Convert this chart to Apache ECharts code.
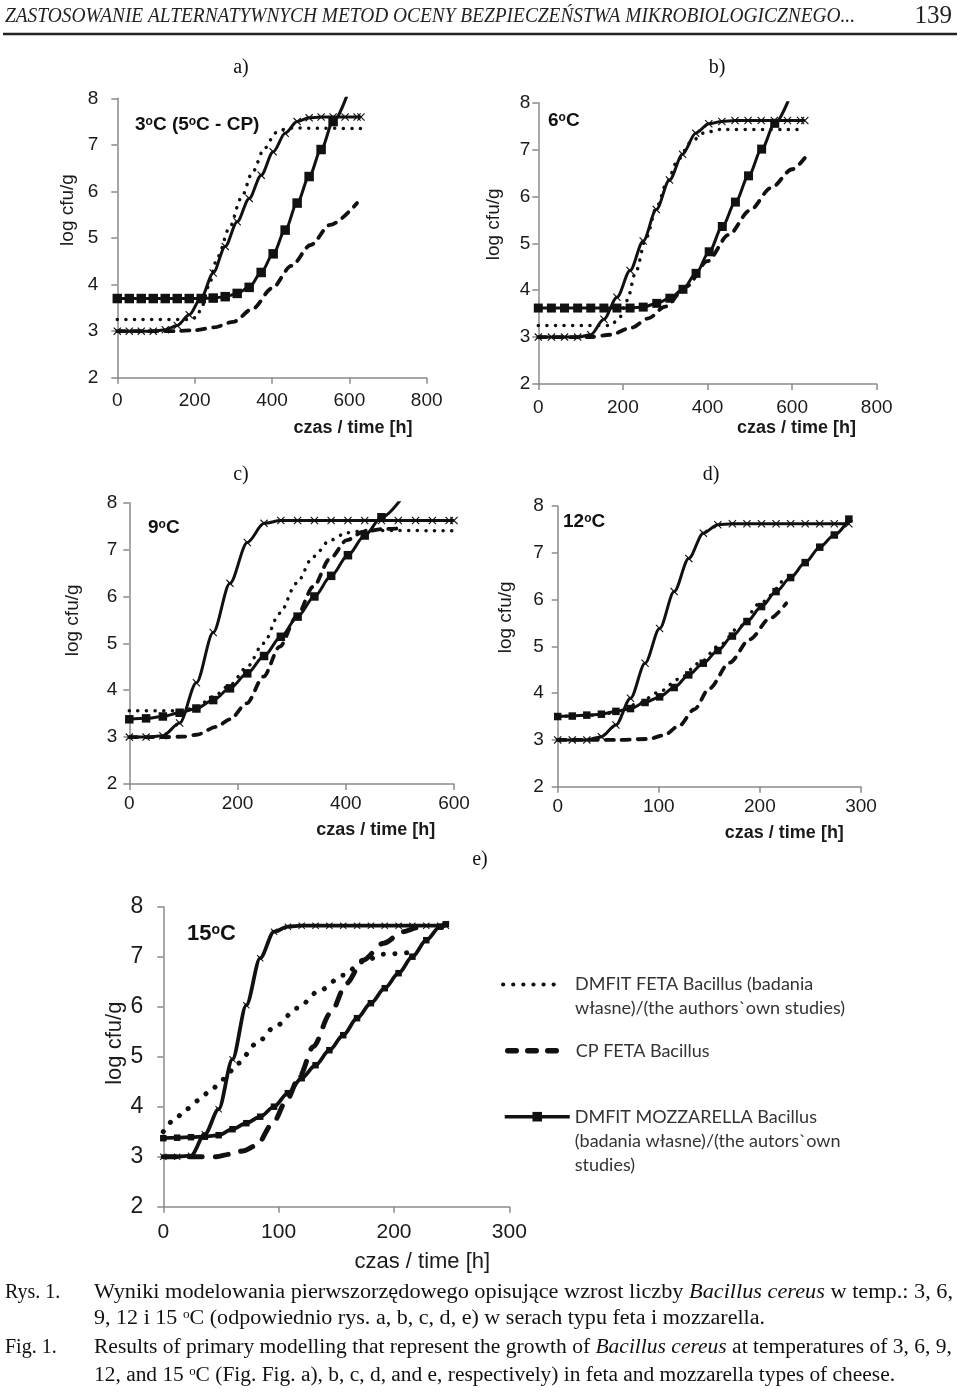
<!DOCTYPE html>
<html><head><meta charset="utf-8">
<script src="https://cdn.jsdelivr.net/npm/echarts@6/dist/echarts.min.js"></script>
<style>html,body{margin:0;padding:0;background:#fff}#c{width:960px;height:1393px}</style>
</head><body><div id="c"></div>
<script>
// ---------------- DATA ----------------
const NAME_FETA_DMFIT = 'DMFIT FETA Bacillus (badania\nwłasne)/(the authors`own studies)';
const NAME_FETA_CP = 'CP FETA Bacillus';
const NAME_MOZZ_DMFIT = 'DMFIT MOZZARELLA Bacillus\n(badania własne)/(the autors`own\nstudies)';
const NAME_X = 'Bacillus (×)';

// a) 3 °C
const a_dmfitFeta = [[0,3.25],[190,3.25],[205,3.3],[220,3.55],[235,3.95],[260,4.6],[290,5.22],[320,5.85],[350,6.42],[380,6.92],[410,7.26],[440,7.36],[470,7.36],[630,7.35]];
const a_cpFeta = [[0,3.0],[150,3.0],[200,3.02],[250,3.08],[300,3.2],[350,3.48],[400,3.92],[450,4.4],[500,4.85],[550,5.28],[620,5.75]];
const a_dmfitMozz = [[0,3.7],[31,3.7],[62,3.7],[93,3.7],[124,3.7],[155,3.7],[186,3.7],[217,3.7],[248,3.71],[279,3.74],[310,3.81],[341,3.94],[372,4.26],[403,4.66],[434,5.17],[465,5.75],[496,6.32],[527,6.9],[558,7.5],[600,8.2]];
const a_xSeries = [[0,3.0],[31,3.0],[62,3.0],[93,3.0],[124,3.03],[155,3.12],[186,3.35],[217,3.72],[248,4.25],[279,4.82],[310,5.35],[341,5.85],[372,6.35],[403,6.85],[434,7.25],[465,7.5],[496,7.58],[527,7.6],[558,7.6],[589,7.6],[620,7.6],[630,7.6]];

// b) 6 °C
const b_dmfitFeta = [[0,3.25],[170,3.25],[190,3.38],[210,3.78],[230,4.38],[255,5.12],[280,5.78],[305,6.32],[330,6.78],[360,7.15],[390,7.35],[430,7.43],[630,7.43]];
const b_cpFeta = [[0,3.0],[120,3.0],[170,3.05],[220,3.2],[260,3.4],[300,3.65],[350,4.08],[400,4.62],[450,5.18],[500,5.7],[550,6.18],[600,6.58],[630,6.82]];
const b_dmfitMozz = [[0,3.62],[31,3.62],[62,3.62],[93,3.62],[124,3.62],[155,3.62],[186,3.62],[217,3.62],[248,3.64],[280,3.72],[311,3.83],[342,4.02],[373,4.36],[404,4.82],[435,5.36],[466,5.88],[497,6.44],[528,7.01],[559,7.56],[600,8.25]];
const b_xSeries = [[0,3.0],[31,3.0],[62,3.0],[93,3.0],[124,3.05],[155,3.38],[186,3.85],[217,4.42],[248,5.05],[279,5.72],[310,6.35],[341,6.9],[372,7.35],[403,7.55],[434,7.6],[465,7.62],[496,7.62],[527,7.62],[558,7.62],[589,7.62],[620,7.62],[630,7.62]];

// c) 9 °C
const c_dmfitFeta = [[0,3.56],[100,3.56],[125,3.65],[155,3.86],[186,4.11],[218,4.5],[248,5.0],[278,5.64],[309,6.28],[340,6.85],[371,7.2],[402,7.36],[440,7.41],[600,7.4]];
const c_cpFeta = [[0,3.0],[62,3.0],[100,3.01],[124,3.05],[161,3.22],[186,3.38],[217,3.72],[248,4.29],[278,4.93],[309,5.57],[340,6.21],[371,6.81],[402,7.2],[432,7.38],[470,7.44],[495,7.45]];
const c_dmfitMozz = [[0,3.38],[31,3.4],[62,3.44],[93,3.52],[124,3.61],[155,3.79],[186,4.04],[218,4.36],[249,4.73],[280,5.14],[311,5.57],[342,6.0],[373,6.44],[404,6.88],[435,7.3],[466,7.69],[520,8.37]];
const c_xSeries = [[0,3.0],[31,3.0],[62,3.03],[93,3.3],[124,4.16],[155,5.23],[186,6.28],[218,7.15],[249,7.56],[280,7.62],[311,7.62],[342,7.62],[373,7.62],[404,7.62],[435,7.62],[466,7.62],[497,7.62],[529,7.62],[560,7.62],[591,7.62],[600,7.62]];

// d) 12 °C
const d_dmfitFeta = [[0,3.5],[40,3.53],[60,3.6],[80,3.78],[100,4.02],[120,4.3],[140,4.64],[160,5.02],[180,5.42],[200,5.92],[222,6.4]];
const d_cpFeta = [[0,3.0],[60,3.0],[90,3.02],[105,3.1],[120,3.3],[135,3.65],[150,4.1],[170,4.65],[190,5.15],[210,5.6],[226,5.92]];
const d_dmfitMozz = [[0,3.5],[14.4,3.51],[28.8,3.53],[43.2,3.55],[57.6,3.61],[72,3.67],[86.4,3.8],[100.8,3.92],[115.2,4.12],[129.6,4.39],[144,4.64],[158.4,4.91],[172.8,5.22],[187.2,5.53],[201.6,5.85],[216,6.17],[230.4,6.47],[244.8,6.79],[259.2,7.12],[273.6,7.38],[288,7.72]];
const d_xSeries = [[0,3.0],[14.4,3.0],[28.8,3.0],[43.2,3.07],[57.6,3.32],[72,3.89],[86.4,4.64],[100.8,5.38],[115.2,6.17],[129.6,6.88],[144,7.42],[158.4,7.6],[172.8,7.62],[187.2,7.62],[201.6,7.62],[216,7.62],[230.4,7.62],[244.8,7.62],[259.2,7.62],[273.6,7.62],[288,7.62]];

// e) 15 °C
const e_dmfitFeta = [[0,3.5],[10,3.75],[20,3.95],[30,4.12],[40,4.3],[52,4.55],[65,4.87],[80,5.25],[98,5.62],[116,5.97],[136,6.33],[156,6.63],[173,6.9],[191,7.05],[211,7.08]];
const e_cpFeta = [[0,3.0],[30,3.0],[46,3.0],[58,3.05],[70,3.12],[81,3.23],[95,3.67],[107,4.13],[118,4.6],[130,5.2],[145,5.87],[159,6.47],[173,6.93],[191,7.27],[208,7.5],[220,7.58],[228,7.6]];
const e_dmfitMozz = [[0,3.37],[12,3.38],[24,3.39],[36,3.4],[48,3.43],[60,3.55],[72,3.67],[84,3.8],[96,4.0],[108,4.27],[120,4.57],[132,4.83],[144,5.13],[156,5.43],[168,5.77],[180,6.07],[192,6.37],[204,6.67],[216,7.0],[228,7.33],[240,7.6],[245,7.65]];
const e_xSeries = [[0,3.0],[12,3.0],[24,3.02],[36,3.45],[48,3.95],[60,4.95],[72,6.03],[84,6.97],[96,7.5],[108,7.6],[120,7.62],[132,7.62],[144,7.62],[156,7.62],[168,7.62],[180,7.62],[192,7.62],[204,7.62],[216,7.62],[228,7.62],[240,7.62],[245,7.62]];

// axis ranges
const xRanges = {a:[0,800,200], b:[0,800,200], c:[0,600,200], d:[0,300,100], e:[0,300,100]};
const yRange = [2,8,1];

// texts
const Y_NAME = 'log cfu/g';
const X_NAME = 'czas / time [h]';
const HEADER = 'ZASTOSOWANIE ALTERNATYWNYCH METOD OCENY BEZPIECZEŃSTWA MIKROBIOLOGICZNEGO...';
const PAGE_NO = '139';
const capRys1 = [['n','Wyniki modelowania pierwszorzędowego opisujące wzrost liczby '],['i','Bacillus cereus'],['n',' w temp.: 3, 6,']];
const capRys2 = [['n','9, 12 i 15 '],['s','o'],['n','C (odpowiednio rys. a, b, c, d, e) w serach typu feta i mozzarella.']];
const capFig1 = [['n','Results of primary modelling that represent the growth of '],['i','Bacillus cereus'],['n',' at temperatures of 3, 6, 9,']];
const capFig2 = [['n','12, and 15 '],['s','o'],['n','C (Fig. Fig. a), b, c, d, and e, respectively) in feta and mozzarella types of cheese.']];

// ---------------- LAYOUT / STYLE ----------------
const SANS = 'Liberation Sans';
const SERIF = 'Liberation Serif';
const INK = '#111';
const AXC = '#8a8a8a';
const panels = [
  {k:'a', letter:'a)', lx:241, ly:68, temp:'{b|3}{o|o}{b|C (5}{o|o}{b|C - CP)}', tx:135, ty:125, tfs:19,
   grid:{left:117.3, top:98.3, width:309.4, height:279.4}, xfs:19, yfs:19, xm:14, ym:19, xGap:41, xPad:162, yGap:40, yPad:56, xnfs:18, ynfs:19, xBold:true,
   sq:9.5, xs:8, lw:3, dot:[3.5,8.5], dash:[3.8,8,8]},
  {k:'b', letter:'b)', lx:717, ly:68, temp:'{b|6}{o|o}{b|C}', tx:548, ty:121, tfs:19,
   grid:{left:538.3, top:102.7, width:338.4, height:281.3}, xfs:19, yfs:19, xm:14, ym:8, xGap:35, xPad:178, yGap:35, yPad:38, xnfs:18, ynfs:19, xBold:true,
   sq:9, xs:8, lw:3, dot:[3.5,8.5], dash:[3.8,8,8]},
  {k:'c', letter:'c)', lx:241, ly:475, temp:'{b|9}{o|o}{b|C}', tx:148, ty:528, tfs:19,
   grid:{left:129.3, top:502.7, width:324.7, height:281.3}, xfs:19, yfs:19, xm:10, ym:12, xGap:37, xPad:168, yGap:47, yPad:46, xnfs:18, ynfs:19, xBold:true,
   sq:8.5, xs:8, lw:3, dot:[3.5,8.5], dash:[3.8,8,8]},
  {k:'d', letter:'d)', lx:711, ly:475, temp:'{b|12}{o|o}{b|C}', tx:563, ty:522, tfs:19,
   grid:{left:557.7, top:506, width:303.3, height:280.7}, xfs:19, yfs:19, xm:11, ym:14, xGap:37.5, xPad:150, yGap:42, yPad:58, xnfs:18, ynfs:19, xBold:true,
   sq:7.5, xs:8, lw:3, dot:[3.5,8.5], dash:[3.8,8,8]},
  {k:'e', letter:'e)', lx:480, ly:860, temp:'{b|15}{o|o}{b|C}', tx:187, ty:934, tfs:22,
   grid:{left:163.3, top:906.7, width:346, height:300}, xfs:21, yfs:23, xm:15, ym:20, xGap:44, xPad:172, yGap:37, yPad:27, xnfs:22, ynfs:22, xBold:false,
   sq:6.5, xs:7, lw:3.8, dot:[5,11.5], dash:[5,13,13]}
];
const dataByPanel = {
  a:[a_dmfitFeta,a_cpFeta,a_dmfitMozz,a_xSeries],
  b:[b_dmfitFeta,b_cpFeta,b_dmfitMozz,b_xSeries],
  c:[c_dmfitFeta,c_cpFeta,c_dmfitMozz,c_xSeries],
  d:[d_dmfitFeta,d_cpFeta,d_dmfitMozz,d_xSeries],
  e:[e_dmfitFeta,e_cpFeta,e_dmfitMozz,e_xSeries]
};
const X_SYMBOL = 'path://M0,1L1,0L5,4L9,0L10,1L6,5L10,9L9,10L5,6L1,10L0,9L4,5Z';

const grids=[], xAxes=[], yAxes=[], series=[], graphics=[];
panels.forEach((p,i)=>{
  grids.push(Object.assign({containLabel:false, outerBoundsMode:'none'}, p.grid));
  const xr = xRanges[p.k];
  xAxes.push({gridIndex:i, type:'value', min:xr[0], max:xr[1], interval:xr[2],
    splitLine:{show:false},
    axisLine:{show:true, onZero:false, lineStyle:{color:AXC, width:1.5}},
    axisTick:{show:true, length:6, lineStyle:{color:AXC, width:1.5}},
    axisLabel:{margin:p.xm, fontSize:p.xfs, fontFamily:SANS, color:'#1a1a1a'},
    name:X_NAME, nameLocation:'middle', nameGap:p.xGap,
    nameTextStyle:{fontSize:p.xnfs, fontFamily:SANS, fontWeight:p.xBold?'bold':'normal', color:'#1a1a1a', padding:[0,0,0,p.xPad]}
  });
  yAxes.push({gridIndex:i, type:'value', min:yRange[0], max:yRange[1], interval:yRange[2],
    splitLine:{show:false},
    axisLine:{show:true, onZero:false, lineStyle:{color:AXC, width:1.5}},
    axisTick:{show:true, length:6, lineStyle:{color:AXC, width:1.5}},
    axisLabel:{margin:p.ym, fontSize:p.yfs, fontFamily:SANS, color:'#1a1a1a'},
    name:Y_NAME, nameLocation:'middle', nameRotate:90, nameGap:p.yGap,
    nameTextStyle:{fontSize:p.ynfs, fontFamily:SANS, color:'#1a1a1a', padding:[0,0,0,p.yPad]}
  });
  const d = dataByPanel[p.k];
  const common = {type:'line', xAxisIndex:i, yAxisIndex:i, smooth:0.3, smoothMonotone:'x', clip:true, animation:false, color:INK};
  series.push(Object.assign({}, common, {name:NAME_FETA_DMFIT, data:d[0], symbol:'none',
    lineStyle:{color:INK, width:p.dot[0], type:[0.1,p.dot[1]], cap:'round'}, z:3}));
  series.push(Object.assign({}, common, {name:NAME_FETA_CP, data:d[1], symbol:'none',
    lineStyle:{color:INK, width:p.dash[0], type:[p.dash[1],p.dash[2]], cap:'round'}, z:3}));
  series.push(Object.assign({}, common, {name:NAME_MOZZ_DMFIT,
    data:d[2].map(v => v[1] > yRange[1] ? {value:v, symbol:'none'} : v),
    symbol:'rect', symbolSize:p.sq, showAllSymbol:true,
    itemStyle:{color:INK}, lineStyle:{color:INK, width:p.lw}, z:4}));
  series.push(Object.assign({}, common, {name:NAME_X, data:d[3],
    symbol:X_SYMBOL, symbolSize:p.xs, showAllSymbol:true,
    itemStyle:{color:INK}, lineStyle:{color:INK, width:p.lw}, z:5}));

  graphics.push({type:'text', x:p.lx, y:p.ly, style:{text:p.letter, font:'20px "'+SERIF+'"', fill:'#111', align:'center', verticalAlign:'middle'}});
  graphics.push({type:'text', x:p.tx, y:p.ty, style:{text:p.temp, verticalAlign:'middle', align:'left',
    rich:{b:{fontSize:p.tfs, fontWeight:'bold', fontFamily:SANS, fill:'#111'}, o:{fontSize:Math.round(p.tfs*0.62), fontWeight:'bold', fontFamily:SANS, fill:'#111', verticalAlign:'top'}}}});
});

// text measurement for fitting the scanned, condensed lines
const mctx = document.createElement('canvas').getContext('2d');
const capFonts = {n:'20px "'+SERIF+'"', i:'italic 20px "'+SERIF+'"', s:'12px "'+SERIF+'"'};
function segWidth(segs){ let w=0; segs.forEach(s=>{ mctx.font=capFonts[s[0]]; w+=mctx.measureText(s[1]).width; }); return w; }
function capLine(segs, x, y, target){
  const sc = target / segWidth(segs);
  return {type:'text', x:x, y:y, scaleX:sc, style:{
    text: segs.map(s=>'{'+s[0]+'|'+s[1]+'}').join(''), align:'left', verticalAlign:'middle',
    rich:{n:{fontSize:20, fontFamily:SERIF, fill:'#111'}, i:{fontSize:20, fontFamily:SERIF, fontStyle:'italic', fill:'#111'}, s:{fontSize:12, fontFamily:SERIF, fill:'#111', verticalAlign:'top'}}}};
}
// header
mctx.font = 'italic 22px "'+SERIF+'"';
const hsc = 850 / mctx.measureText(HEADER).width;
graphics.push({type:'text', x:5, y:16, scaleX:hsc, style:{text:HEADER, font:'italic 22px "'+SERIF+'"', fill:'#222', align:'left', verticalAlign:'middle'}});
graphics.push({type:'text', x:952, y:16, style:{text:PAGE_NO, font:'25px "'+SERIF+'"', fill:'#222', align:'right', verticalAlign:'middle'}});
graphics.push({type:'line', shape:{x1:3, y1:34, x2:957, y2:34}, style:{stroke:'#222', lineWidth:2.5}});
// caption
graphics.push({type:'text', x:5, y:1293, style:{text:'Rys. 1.', font:'20px "'+SERIF+'"', fill:'#111', verticalAlign:'middle'}});
graphics.push(capLine(capRys1, 94, 1293, 859));
graphics.push(capLine(capRys2, 94, 1319, 671));
graphics.push({type:'text', x:5, y:1348, style:{text:'Fig. 1.', font:'20px "'+SERIF+'"', fill:'#111', verticalAlign:'middle'}});
graphics.push(capLine(capFig1, 94, 1348, 858));
graphics.push(capLine(capFig2, 94, 1376, 801));

// legend: first text line is kept level with the icon by centring a block that
// starts with (n-1) blank lines
function firstLineAligned(name){
  const n = name.split('\n').length;
  return ' \n'.repeat(n-1) + name;
}
const legendText = {fontFamily:'Lato', fontSize:18, color:'#333', lineHeight:24};
const option = {
  backgroundColor:'#fff',
  animation:false,
  grid:grids, xAxis:xAxes, yAxis:yAxes, series:series,
  legend:[
    {data:[NAME_FETA_DMFIT], left:501, top:948.5, padding:0, itemWidth:57, itemHeight:12, selectedMode:false,
     formatter:firstLineAligned, itemStyle:{opacity:0},
     lineStyle:{width:4.2, type:[0.1,10], cap:'round', color:INK},
     textStyle:Object.assign({}, legendText, {padding:[0,0,0,10]})},
    {data:[NAME_FETA_CP], left:505, top:1038.7, padding:0, itemWidth:53, itemHeight:12, selectedMode:false,
     formatter:firstLineAligned, itemStyle:{opacity:0},
     lineStyle:{width:5.5, type:[8.5,11.5], cap:'round', color:INK},
     textStyle:Object.assign({}, legendText, {padding:[0,0,0,10]})},
    {data:[NAME_MOZZ_DMFIT], left:503, top:1056.7, padding:0, itemWidth:65, itemHeight:12, selectedMode:false,
     formatter:firstLineAligned,
     lineStyle:{width:3.5, color:INK},
     textStyle:Object.assign({}, legendText, {padding:[0,0,0,0]})}
  ],
  graphic:graphics
};
const chart = echarts.init(document.getElementById('c'), null, {renderer:'canvas'});
chart.setOption(option);
</script></body></html>
